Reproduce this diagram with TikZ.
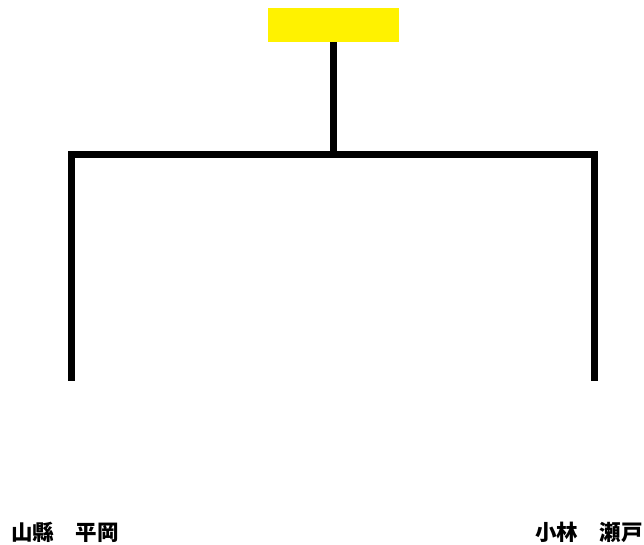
\documentclass[tikz,border=0pt]{standalone}
\usepackage{fontspec}
\newfontfamily\cjk{Noto Sans CJK JP}
\usepackage{tikz}

\begin{document}
\begin{tikzpicture}[x=1pt,y=-1pt,
  every node/.style={inner sep=0pt},
  bar/.style={line width=7pt},
  member/.style={font=\cjk\bfseries\fontsize{21.5}{24}\selectfont,anchor=west}]
\useasboundingbox (0,0) rectangle (644,544);
\node[fill=yellow,minimum width=131pt,minimum height=34pt] (top) at (333.5,25) {};
\coordinate (mid) at (333.5,154.5);
\coordinate (left) at (71.5,154.5);
\coordinate (right) at (594.5,154.5);
\coordinate (leftend) at (71.5,380.5);
\coordinate (rightend) at (594.5,380.5);
\node[member] (A) at (11,532) {山縣　平岡};
\node[member] (B) at (535,532) {小林　瀬戸};
\draw[bar] (top.south) -- (mid);
\draw[bar,line cap=rect] (left) -- (right);
\draw[bar] (left) -- (leftend);
\draw[bar] (right) -- (rightend);
\end{tikzpicture}
\end{document}
